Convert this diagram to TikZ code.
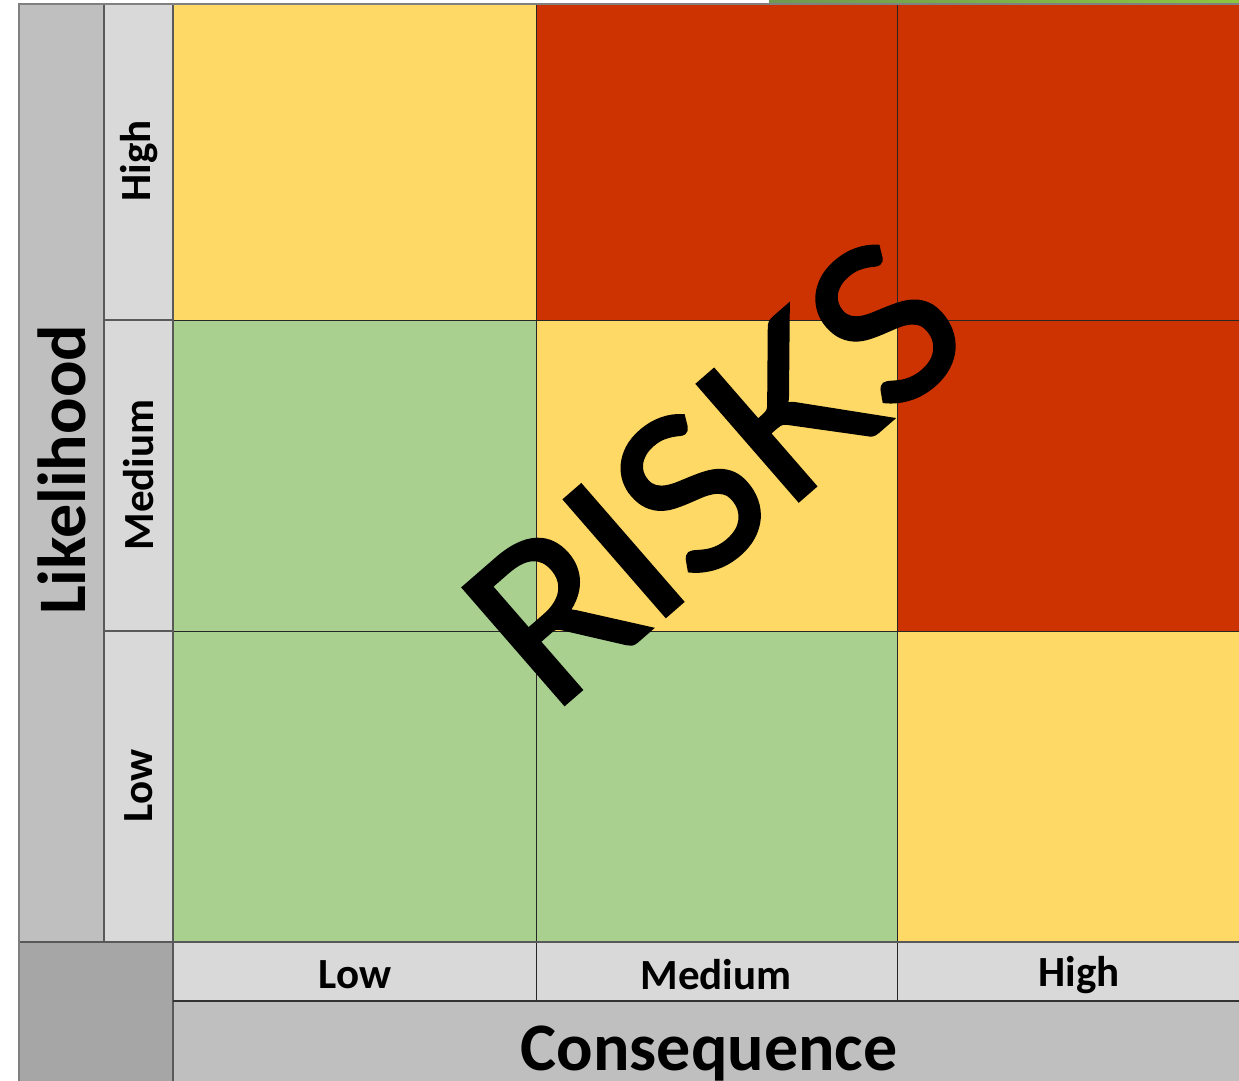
\documentclass[tikz,border=0pt]{standalone}
\usepackage{fontspec}
\setmainfont{Carlito}
\newfontfamily\riskfont[FakeBold=2]{Lato}
\definecolor{cyel}{HTML}{FFD966}
\definecolor{cred}{HTML}{CC3300}
\definecolor{cgrn}{HTML}{A9D08E}
\definecolor{glight}{HTML}{D9D9D9}
\definecolor{gmid}{HTML}{BFBFBF}
\definecolor{gdark}{HTML}{A6A6A6}
\definecolor{gline}{HTML}{595959}
\definecolor{topgA}{HTML}{6F9A52}
\definecolor{topgB}{HTML}{8CC63F}
\tikzset{
  gridline/.style={draw=black!85, line width=1pt},
  bandline/.style={draw=gline, line width=1.5pt},
  lvl/.style={font=\bfseries\fontsize{43}{50}\selectfont, inner sep=0pt},
  axis/.style={font=\bfseries\fontsize{68}{78}\selectfont, inner sep=0pt},
}
\begin{document}
\begin{tikzpicture}[x=1pt,y=-1pt]
\useasboundingbox (0,0) rectangle (1239,1080);
\begin{scope}
\clip (0,0) rectangle (1239,1080);
\fill[white] (0,0) rectangle (1239,1080);
% top strip artefact
\shade[left color=topgA, right color=topgB] (769,0) rectangle (1239,3.5);
% side bands
\fill[gmid] (19,4) rectangle (104,942);
\fill[glight] (104,4) rectangle (173,942);
% cells
\fill[cyel] (173,4) rectangle (536,320);
\fill[cred] (536,4) rectangle (897,320);
\fill[cred] (897,4) rectangle (1260,320);
\fill[cgrn] (173,320) rectangle (536,631);
\fill[cyel] (536,320) rectangle (897,631);
\fill[cred] (897,320) rectangle (1260,631);
\fill[cgrn] (173,631) rectangle (536,942);
\fill[cgrn] (536,631) rectangle (897,942);
\fill[cyel] (897,631) rectangle (1260,942);
% bottom bands
\fill[gdark] (19,942) rectangle (173,1090);
\fill[glight] (173,942) rectangle (1260,1001);
\fill[gmid] (173,1001) rectangle (1260,1090);
% grid lines
\draw[gridline] (173,320) -- (1260,320);
\draw[gridline] (173,631) -- (1260,631);
\draw[gridline] (536,4) -- (536,1001);
\draw[gridline] (897,4) -- (897,1001);
\draw[bandline] (104,4) -- (104,942);
\draw[bandline] (173,4) -- (173,1090);
\draw[bandline] (104,320) -- (173,320);
\draw[bandline] (104,631) -- (173,631);
\draw[bandline] (19,942) -- (1260,942);
\draw[draw=black!80, line width=2.5pt] (173,1001) -- (1260,1001);
\draw[draw=gray, line width=2pt] (19,1090) -- (19,4) -- (1260,4);
\end{scope}
% labels
\node[lvl, rotate=90] (lh) at (139,161) {High};
\node[lvl, rotate=90] (lm) at (139,475) {Medium};
\node[lvl, rotate=90] (ll) at (139,786) {Low};
\node[axis, rotate=90] (lik) at (62,470) {Likelihood};
\node[lvl] (cl) at (355,975) {Low};
\node[lvl] (cm) at (716,975) {Medium};
\node[lvl] (ch) at (1079,975) {High};
\node[axis, anchor=base] (con) at (709,1070) {Consequence};
\node[inner sep=0pt, rotate=41, font=\riskfont\fontsize{214}{214}\selectfont] (risks) at (714,472) {RISKS};
\end{tikzpicture}
\end{document}
